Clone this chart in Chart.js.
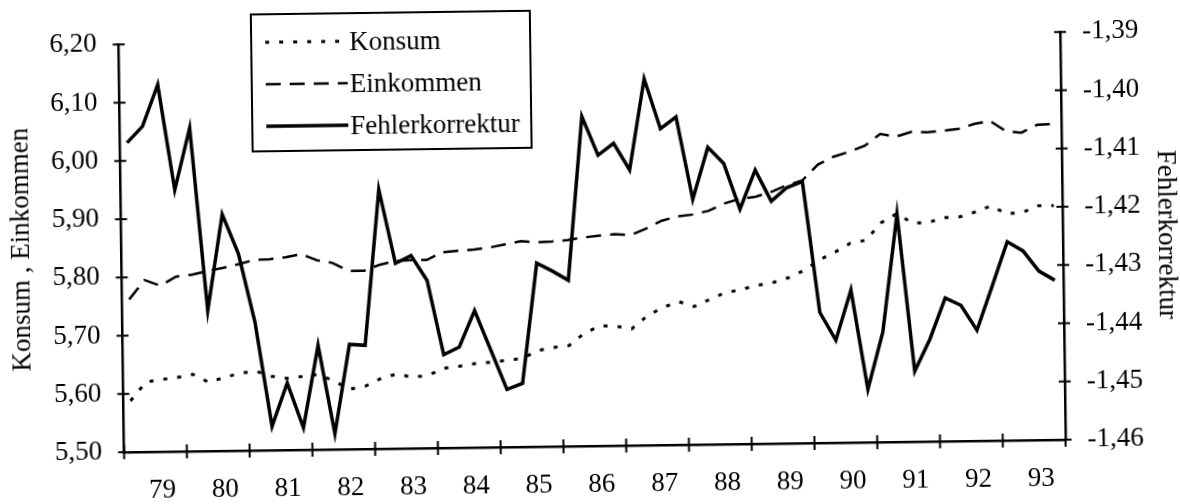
<!DOCTYPE html>
<html lang="de">
<head>
  <meta charset="UTF-8" />
  <title>Konsum, Einkommen und Fehlerkorrektur</title>
  <!-- Chart.js -->
  <script src="https://cdn.jsdelivr.net/npm/chart.js"></script>
  <style>
    html, body {
      margin: 0;
      padding: 0;
      background: #fff;
    }
    /* the scanned original sits slightly tilted (counter-clockwise) */
    #wrap {
      width: 1180px;
      height: 504px;
      transform: rotate(-0.76deg);
      transform-origin: 50% 50%;
    }
  </style>
</head>
<body>
  <div id="wrap">
    <canvas id="chart" width="1180" height="504"></canvas>
  </div>

  <script>
    // quarterly data 1979 - 1993
    const years = [79, 80, 81, 82, 83, 84, 85, 86, 87, 88, 89, 90, 91, 92, 93];
    const quarterPos = 0.45; // where inside a quarter the point is plotted

    const konsum = [5.588, 5.620, 5.624, 5.627, 5.632, 5.618, 5.626, 5.633, 5.636, 5.627,
                    5.623, 5.626, 5.629, 5.617, 5.603, 5.608, 5.621, 5.628, 5.622, 5.625,
                    5.637, 5.640, 5.644, 5.646, 5.649, 5.652, 5.665, 5.670, 5.673, 5.694,
                    5.706, 5.705, 5.700, 5.722, 5.736, 5.746, 5.737, 5.749, 5.760, 5.765,
                    5.772, 5.776, 5.784, 5.796, 5.814, 5.827, 5.842, 5.847, 5.877, 5.892,
                    5.875, 5.876, 5.884, 5.885, 5.893, 5.903, 5.889, 5.891, 5.902, 5.902];

    const einkommen = [5.762, 5.795, 5.785, 5.800, 5.803, 5.809, 5.814, 5.820, 5.827, 5.828,
                       5.831, 5.836, 5.825, 5.820, 5.806, 5.806, 5.816, 5.822, 5.823, 5.823,
                       5.836, 5.838, 5.840, 5.843, 5.848, 5.853, 5.851, 5.852, 5.854, 5.858,
                       5.861, 5.863, 5.861, 5.872, 5.885, 5.892, 5.895, 5.901, 5.913, 5.921,
                       5.924, 5.932, 5.943, 5.951, 5.978, 5.991, 5.999, 6.009, 6.029, 6.024,
                       6.032, 6.031, 6.033, 6.036, 6.044, 6.049, 6.031, 6.028, 6.041, 6.042];

    const fehlerkorrektur = [-1.4069, -1.4041, -1.3970, -1.4151, -1.4045, -1.4359, -1.4194, -1.4262, -1.4380, -1.4559,
                             -1.4485, -1.4562, -1.4421, -1.4573, -1.4420, -1.4422, -1.4155, -1.4282, -1.4269, -1.4312,
                             -1.4440, -1.4427, -1.4365, -1.4433, -1.4501, -1.4491, -1.4285, -1.4299, -1.4315, -1.4034,
                             -1.4101, -1.4081, -1.4127, -1.3971, -1.4057, -1.4037, -1.4179, -1.4090, -1.4118, -1.4197,
                             -1.4130, -1.4184, -1.4161, -1.4151, -1.4376, -1.4424, -1.4338, -1.4509, -1.4411, -1.4209,
                             -1.4479, -1.4424, -1.4354, -1.4367, -1.4410, -1.4335, -1.4259, -1.4275, -1.4310, -1.4326];

    // axis ticks
    const leftTicks = [5.50, 5.60, 5.70, 5.80, 5.90, 6.00, 6.10, 6.20];
    const rightTicks = [-1.46, -1.45, -1.44, -1.43, -1.42, -1.41, -1.40, -1.39];
    const yearTicks = [79, 80, 81, 82, 83, 84, 85, 86, 87, 88, 89, 90, 91, 92, 93, 94];

    // time value of each quarter
    const quarterX = [];
    years.forEach(y => {
      for (let q = 0; q < 4; q++) quarterX.push(y + (q + quarterPos) / 4);
    });
    const toPoints = arr => arr.map((v, i) => ({ x: quarterX[i], y: v }));

    const comma = (v, d) => v.toFixed(d).replace('.', ',');

    Chart.defaults.font.family = "'Liberation Serif', 'Times New Roman', serif";
    Chart.defaults.font.size = 27;
    Chart.defaults.color = '#000';

    // tick marks that cross the axis line, like in the print
    const crossTicks = {
      id: 'crossTicks',
      afterDraw(chart) {
        const { ctx, chartArea, scales } = chart;
        ctx.save();
        ctx.strokeStyle = '#000';
        ctx.lineWidth = 2;
        ctx.beginPath();
        scales.y.ticks.forEach(t => {
          const py = scales.y.getPixelForValue(t.value);
          ctx.moveTo(chartArea.left - 6, py);
          ctx.lineTo(chartArea.left + 6, py);
        });
        scales.y1.ticks.forEach(t => {
          const py = scales.y1.getPixelForValue(t.value);
          ctx.moveTo(chartArea.right - 6, py);
          ctx.lineTo(chartArea.right + 6, py);
        });
        scales.x.ticks.forEach(t => {
          const px = scales.x.getPixelForValue(t.value);
          ctx.moveTo(px, chartArea.bottom - 7);
          ctx.lineTo(px, chartArea.bottom + 7);
        });
        ctx.stroke();
        ctx.restore();
      }
    };

    // framed legend in the upper left
    const boxLegend = {
      id: 'boxLegend',
      afterDraw(chart, args, opts) {
        const ctx = chart.ctx;
        ctx.save();
        ctx.strokeStyle = '#000';
        ctx.fillStyle = '#000';
        ctx.lineWidth = 2;
        ctx.strokeRect(opts.x, opts.y, opts.w, opts.h);
        ctx.font = "27px 'Liberation Serif', 'Times New Roman', serif";
        ctx.textBaseline = 'middle';
        chart.data.datasets.forEach((ds, i) => {
          const ly = opts.y + opts.first + i * opts.step;
          ctx.setLineDash(ds.borderDash || []);
          ctx.lineWidth = ds.borderWidth;
          ctx.beginPath();
          ctx.moveTo(opts.x + 14, ly);
          ctx.lineTo(opts.x + 96, ly);
          ctx.stroke();
          ctx.setLineDash([]);
          ctx.fillText(ds.label, opts.x + 98, ly + 2);
        });
        ctx.restore();
      }
    };

    const ctx = document.getElementById('chart').getContext('2d');
    new Chart(ctx, {
      type: 'line',
      data: {
        datasets: [
          {
            label: 'Konsum',
            data: toPoints(konsum),
            yAxisID: 'y',
            borderColor: '#000',
            borderWidth: 3,
            borderDash: [4, 10],
            pointRadius: 0,
            tension: 0
          },
          {
            label: 'Einkommen',
            data: toPoints(einkommen),
            yAxisID: 'y',
            borderColor: '#000',
            borderWidth: 2.5,
            borderDash: [15, 9],
            pointRadius: 0,
            tension: 0
          },
          {
            label: 'Fehlerkorrektur',
            data: toPoints(fehlerkorrektur),
            yAxisID: 'y1',
            borderColor: '#000',
            borderWidth: 3.5,
            pointRadius: 0,
            tension: 0
          }
        ]
      },
      options: {
        responsive: false,
        animation: false,
        layout: { padding: { top: 32, left: 0, right: 0, bottom: 0 } },
        plugins: {
          legend: { display: false },
          tooltip: { enabled: false },
          boxLegend: { x: 254, y: 10, w: 279, h: 137, first: 28, step: 42 }
        },
        scales: {
          x: {
            type: 'linear',
            min: 79,
            max: 94,
            afterBuildTicks: s => { s.ticks = yearTicks.map(v => ({ value: v })); },
            afterFit: s => { s.height = 58; },
            grid: { display: true, drawOnChartArea: false, drawTicks: false },
            border: { display: true, color: '#000', width: 2.5 },
            ticks: {
              autoSkip: false,
              maxRotation: 0,
              padding: 25,
              labelOffset: 38,
              font: { size: 27, lineHeight: 1 },
              callback: v => (years.includes(v) ? String(v) : '')
            }
          },
          y: {
            position: 'left',
            min: 5.5,
            max: 6.2,
            afterBuildTicks: s => { s.ticks = leftTicks.map(v => ({ value: v })); },
            afterFit: s => { s.width = 121.5; },
            grid: { display: true, drawOnChartArea: false, drawTicks: false },
            border: { display: true, color: '#000', width: 2.5 },
            ticks: { padding: 22, callback: v => comma(v, 2) },
            title: {
              display: true,
              text: 'Konsum , Einkommen',
              font: { size: 27, lineHeight: 1 },
              padding: { top: 8, bottom: 0 }
            }
          },
          y1: {
            position: 'right',
            min: -1.46,
            max: -1.39,
            afterBuildTicks: s => { s.ticks = rightTicks.map(v => ({ value: v })); },
            afterFit: s => { s.width = 117; },
            grid: { display: true, drawOnChartArea: false, drawTicks: false },
            border: { display: true, color: '#000', width: 2.5 },
            ticks: { padding: 22, callback: v => comma(v, 2) },
            title: {
              display: true,
              text: 'Fehlerkorrektur',
              font: { size: 27, lineHeight: 1 },
              padding: { top: 0, bottom: 0 }
            }
          }
        }
      },
      plugins: [crossTicks, boxLegend]
    });
  </script>
</body>
</html>
